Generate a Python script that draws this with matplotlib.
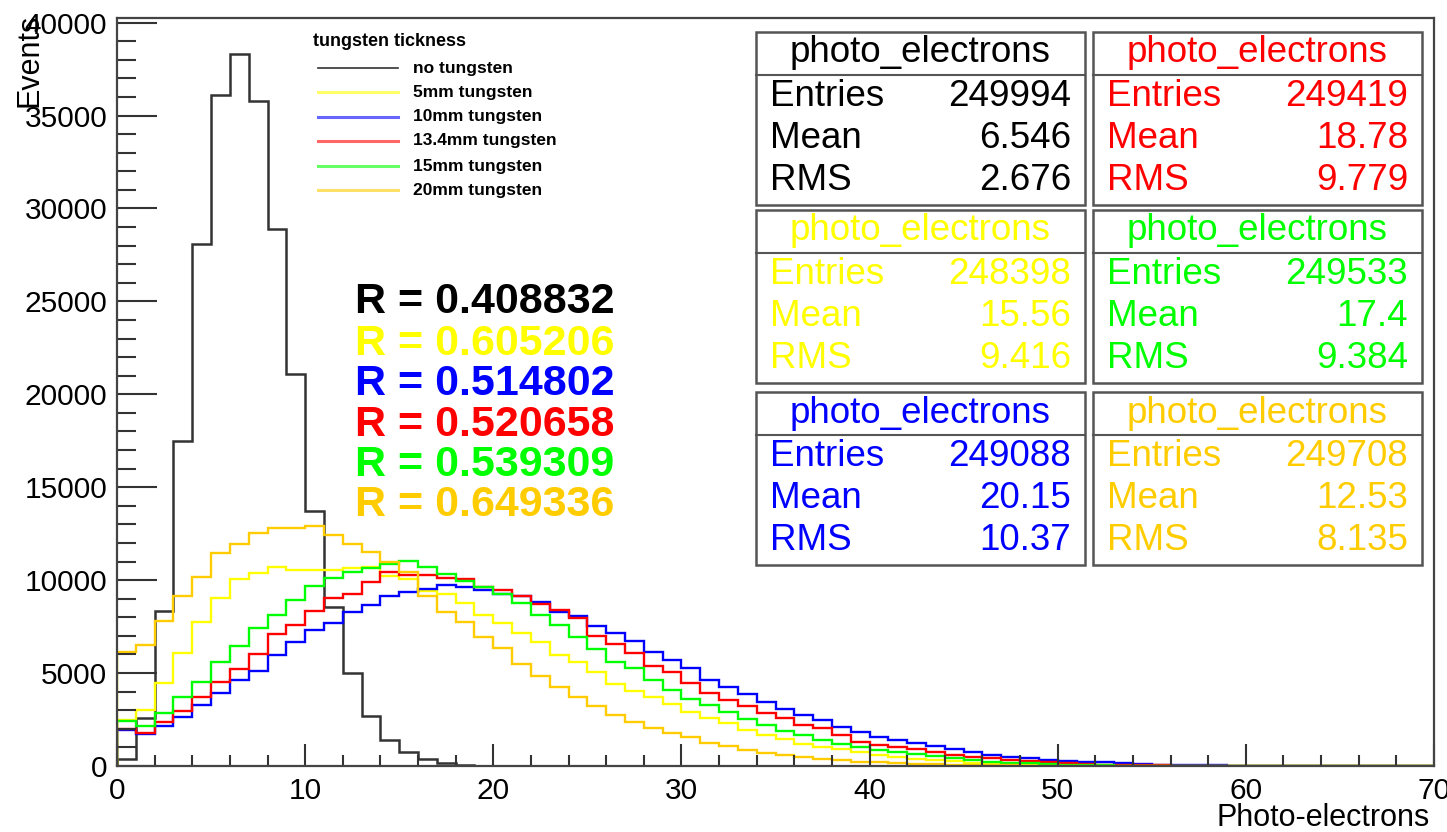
import numpy as np
import matplotlib.pyplot as plt
from matplotlib.lines import Line2D
from matplotlib.patches import Rectangle

plt.rcParams['font.family'] = ['Liberation Sans', 'DejaVu Sans']

# bin contents, one bin per photo-electron, starting at 0
no_tungsten = [400, 2560, 8330, 17470, 28100, 36130, 38330, 35800, 28870, 21070,
               13730, 8560, 5000, 2700, 1400, 770, 360, 180, 60, 25, 10]
w5mm = [2470, 3010, 4440, 6060, 7760, 9050, 10050, 10360, 10720, 10570,
        10550, 10550, 10630, 10720, 10215, 10070, 9430, 9250, 8745, 8120,
        7670, 7130, 6680, 5970, 5580, 5050, 4400, 4050, 3730, 3350,
        2880, 2560, 2290, 1950, 1670, 1430, 1180, 1040, 900, 770,
        590, 500, 400, 320, 270, 180, 140, 110, 70, 50, 35, 25, 15, 10]
w10mm = [1950, 1720, 2170, 2650, 3280, 3910, 4620, 5120, 5970, 6680,
         7310, 7710, 8300, 8650, 9160, 9340, 9520, 9730, 9610, 9460,
         9280, 9150, 8830, 8300, 8060, 7530, 7130, 6740, 6140, 5730,
         5250, 4620, 4265, 3850, 3460, 3050, 2740, 2470, 2080, 1850,
         1580, 1400, 1260, 1090, 900, 770, 600, 500, 440, 330,
         270, 220, 200, 140, 110, 70, 50, 40, 30, 20, 15, 10]
w13mm = [2000, 1760, 2380, 2960, 3730, 4530, 5200, 6020, 7080, 7580,
         8350, 9060, 9280, 9910, 10450, 10270, 10270, 10090, 10040, 9610,
         9460, 9140, 8740, 8400, 7950, 6980, 6590, 6060, 5400, 5050,
         4480, 3910, 3550, 3230, 2830, 2560, 2200, 2030, 1670, 1310,
         1130, 1040, 900, 770, 590, 460, 410, 320, 270, 230,
         180, 110, 80, 60, 45, 30, 20, 15, 10]
w15mm = [2440, 2170, 2830, 3730, 4530, 5570, 6480, 7400, 8120, 8920,
         9680, 10090, 10450, 10630, 10890, 11020, 10720, 10320, 9980, 9610,
         9280, 8780, 8120, 7580, 6950, 6270, 5610, 5250, 4620, 4090,
         3590, 3280, 2900, 2530, 2200, 1900, 1670, 1400, 1180, 1040,
         860, 770, 660, 520, 410, 320, 230, 180, 140, 90,
         60, 45, 30, 20, 15, 10, 5]
w20mm = [6110, 6505, 7812, 9158, 10180, 11470, 11970, 12560, 12780, 12800,
         12920, 12420, 11920, 11490, 10950, 10450, 9160, 8300, 7760, 6950,
         6330, 5480, 4840, 4230, 3690, 3225, 2740, 2380, 2060, 1760,
         1550, 1250, 1060, 850, 700, 590, 480, 380, 310, 240,
         190, 150, 120, 90, 70, 50, 40, 30, 20, 15, 10]

labels = ['no tungsten', '5mm tungsten', '10mm tungsten', '13.4mm tungsten',
          '15mm tungsten', '20mm tungsten']
colors = ['#333333', '#ffff00', '#0000ff', '#ff0000', '#00ff00', '#ffcc00']
r_values = ['0.408832', '0.605206', '0.514802', '0.520658', '0.539309', '0.649336']
entries = [249994, 248398, 249088, 249419, 249533, 249708]
means = ['6.546', '15.56', '20.15', '18.78', '17.4', '12.53']
rms = ['2.676', '9.416', '10.37', '9.779', '9.384', '8.135']

W, H = 1447, 832
fig = plt.figure(figsize=(W / 100, H / 100), dpi=100)
ax = fig.add_axes([117 / W, 1 - 766 / H, (1434 - 117) / W, (766 - 18) / H])

nbins = 70
edges = np.arange(nbins + 1)
series = [no_tungsten, w5mm, w10mm, w13mm, w15mm, w20mm]
for vals, col in zip(series, colors):
    full = np.zeros(nbins)
    full[:len(vals)] = vals
    ax.stairs(full, edges, color=col, lw=1.7 if col != '#333333' else 1.8)

ax.set_xlim(0, 70)
ax.set_ylim(0, 1.05 * max(no_tungsten))
ax.set_xticks(np.arange(0, 71, 10))
ax.set_xticks(np.arange(0, 71, 2), minor=True)
ax.set_yticks(np.arange(0, 40001, 5000))
ax.set_yticks(np.arange(0, 40001, 1000), minor=True)
ax.tick_params(axis='both', which='both', direction='in', colors='#333333',
               width=1.5, labelsize=21.5, labelcolor='black')
ax.tick_params(axis='x', which='major', length=16, pad=8)
ax.tick_params(axis='x', which='minor', length=8)
ax.tick_params(axis='y', which='major', length=29, pad=7)
ax.tick_params(axis='y', which='minor', length=14)
for s in ax.spines.values():
    s.set_color('#444444')
    s.set_linewidth(1.6)

fig.text(30 / W, 1 - 14 / H, 'Events', rotation=90, ha='center', va='top', fontsize=22)
fig.text(1430 / W, 1 - 818 / H, 'Photo-electrons', ha='right', va='center', fontsize=22)

# legend
fig.text(313 / W, 1 - 42 / H, 'tungsten tickness', fontsize=13, fontweight='bold',
         va='center', ha='left')
rows = [68, 92, 117, 141, 166, 190]
for lab, col, yy in zip(labels, colors, rows):
    fig.add_artist(Line2D([318 / W, 398 / W], [1 - yy / H, 1 - yy / H],
                          color=col, lw=1.2 if col == '#333333' else 2.2,
                          alpha=1 if col == '#333333' else 0.6,
                          transform=fig.transFigure))
    fig.text(413 / W, 1 - yy / H, lab, fontsize=12.5, fontweight='bold',
             va='center', ha='left')

# correlation values
r_rows = [302, 344, 384, 425, 465, 505]
for rv, col, yy in zip(r_values, colors, r_rows):
    fig.text(355 / W, 1 - yy / H, 'R = ' + rv, fontsize=31, fontweight='bold',
             color='black' if col == '#333333' else col, va='center', ha='left')

# stats boxes
box_x = [(756, 1085), (1093, 1422)]
box_y = [(32, 205), (210, 383), (392, 565)]
order = [(0, 0), (1, 0), (2, 0), (0, 1), (1, 1), (2, 1)]  # black, yellow, blue, red, green, orange
for i, (row, colm) in enumerate(order):
    x0, x1 = box_x[colm]
    y0, y1 = box_y[row]
    tc = 'black' if i == 0 else colors[i]
    fig.add_artist(Rectangle((x0 / W, 1 - y1 / H), (x1 - x0) / W, (y1 - y0) / H,
                             fill=True, facecolor='white', edgecolor='#555555',
                             lw=1.8, transform=fig.transFigure))
    fig.add_artist(Line2D([x0 / W, x1 / W], [1 - (y0 + 43) / H, 1 - (y0 + 43) / H],
                          color='#555555', lw=1.5, transform=fig.transFigure))
    fig.text((x0 + x1) / 2 / W, 1 - (y0 + 21) / H, 'photo_electrons', fontsize=26.5,
             color=tc, ha='center', va='center')
    stats = [('Entries', str(entries[i])), ('Mean', means[i]), ('RMS', rms[i])]
    for k, (name, val) in enumerate(stats):
        yy = y0 + 65 + 42 * k
        fig.text((x0 + 14) / W, 1 - yy / H, name, fontsize=26.5, color=tc,
                 ha='left', va='center')
        fig.text((x1 - 14) / W, 1 - yy / H, val, fontsize=26.5, color=tc,
                 ha='right', va='center')

fig.savefig('out.png', dpi=100)
